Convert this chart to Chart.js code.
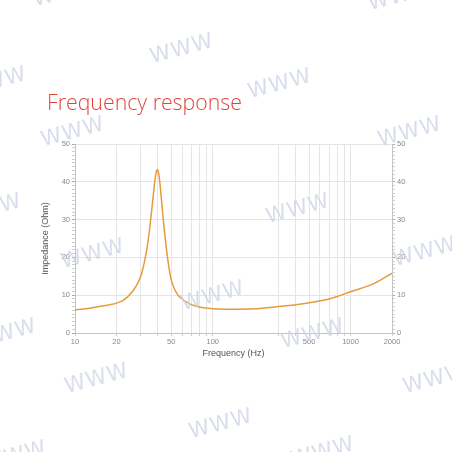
<!DOCTYPE html>
<html>
<head>
<meta charset="utf-8">
<script src="https://cdn.jsdelivr.net/npm/chart.js@4"></script>
<style>
  html,body{margin:0;padding:0;background:#fff;width:452px;height:452px;overflow:hidden;}
  #wrap{position:relative;width:452px;height:452px;}
  #c{position:absolute;left:0;top:0;}
  h1{position:absolute;left:47px;top:87px;margin:0;font-family:"Open Sans",sans-serif;font-weight:300;font-size:21.3px;color:#e0453d;letter-spacing:0;}
  .wm{position:absolute;font-family:"DejaVu Sans",sans-serif;font-size:21px;color:#cdd5e6;transform:rotate(-15deg);transform-origin:left top;letter-spacing:1px;pointer-events:none;opacity:0.8;}
</style>
</head>
<body>
<div id="wrap">
<canvas id="c" width="452" height="452"></canvas>
<h1>Frequency response</h1>
</div>
<script>
const freqHz = [10, 12, 15, 18, 20, 22, 24, 26, 28, 30, 31, 32, 33, 34, 35, 36, 37, 38, 39, 39.5, 40, 41, 42, 43, 44, 46, 48, 50, 53, 56, 60, 65, 70, 80, 90, 100, 120, 150, 200, 300, 400, 500, 700, 1000, 1500, 2000];
const impedanceOhm = [6.1, 6.4, 7.0, 7.5, 7.9, 8.5, 9.5, 10.9, 12.6, 15.0, 16.8, 19.0, 21.6, 24.6, 28.3, 32.3, 36.4, 40.3, 42.8, 43.2, 43.0, 40.8, 37.0, 33.0, 29.0, 22.5, 17.5, 14.0, 11.5, 10.0, 9.0, 8.1, 7.5, 6.9, 6.6, 6.4, 6.3, 6.3, 6.4, 7.0, 7.5, 8.0, 9.0, 10.9, 13.2, 15.8];
const xTickLabels = [10, 20, 50, 100, 500, 1000, 2000];
const xGridValues = [20, 30, 40, 50, 60, 70, 80, 90, 100, 300, 400, 500, 600, 700, 800, 900, 1000];
const yTickLabels = [0, 10, 20, 30, 40, 50];

const watermarks = [
  [30,-12],[365,-8],[147,45],[-40,78],[245,80],[38,128],[375,128],[-45,205],
  [263,205],[58,250],[390,248],[178,292],[-30,330],[278,330],[62,375],[400,375],[186,420],[288,448],[-20,452]
];
const wrap = document.getElementById('wrap');
watermarks.forEach(([x,y]) => {
  const d = document.createElement('div');
  d.className = 'wm'; d.textContent = 'WWW';
  d.style.left = x + 'px'; d.style.top = y + 'px';
  wrap.appendChild(d);
});

const points = freqHz.map((f, i) => ({x: f, y: impedanceOhm[i]}));
const tickFont = {family: "'Liberation Sans', Arial, sans-serif", size: 7.5};
const gridCol = '#e5e5e5';
const axisCol = '#c4c4c4';

function yAxis(pos, showGrid, width) {
  return {
    type: 'linear', position: pos, min: 0, max: 50,
    afterFit: s => { s.width = width; },
    ticks: {
      stepSize: 1, autoSkip: false, color: '#888', font: tickFont, padding: 2,
      callback: v => yTickLabels.includes(v) ? String(v) : ''
    },
    grid: {
      drawOnChartArea: showGrid,
      color: ctx => (ctx.tick && ctx.tick.value % 10 === 0) ? gridCol : 'rgba(0,0,0,0)',
      tickColor: ctx => (ctx.tick && ctx.tick.value % 10 === 0) ? '#aaa' : '#cfcfcf',
      tickLength: 3
    },
    border: {display: true, color: axisCol}
  };
}

const yLeft = yAxis('left', true, 35);
yLeft.title = {display: true, text: 'Impedance (Ohm)', color: '#555', font: {family: "'Liberation Sans', Arial, sans-serif", size: 9}, padding: {top: 0, bottom: 2}};

new Chart(document.getElementById('c'), {
  type: 'line',
  data: {
    datasets: [{
      data: points,
      borderColor: '#e59b3d',
      borderWidth: 1.5,
      pointRadius: 0,
      fill: false,
      cubicInterpolationMode: 'monotone'
    }]
  },
  options: {
    responsive: false,
    animation: false,
    layout: {padding: {left: 40, right: 40, top: 144, bottom: 89}},
    plugins: {legend: {display: false}, tooltip: {enabled: false}, title: {display: false}},
    scales: {
      x: {
        type: 'logarithmic', min: 10, max: 2000,
        afterFit: s => { s.height = 30; },
        ticks: {
          autoSkip: false, maxRotation: 0, color: '#888', font: tickFont, padding: 1,
          callback: v => xTickLabels.includes(v) ? String(v) : ''
        },
        grid: {
          color: ctx => (ctx.tick && xGridValues.includes(ctx.tick.value)) ? gridCol : 'rgba(0,0,0,0)',
          tickColor: ctx => (ctx.tick && (xGridValues.includes(ctx.tick.value) || xTickLabels.includes(ctx.tick.value))) ? '#cfcfcf' : 'rgba(0,0,0,0)',
          tickLength: 3
        },
        border: {display: true, color: axisCol},
        title: {display: true, text: 'Frequency (Hz)', color: '#555', font: {family: "'Liberation Sans', Arial, sans-serif", size: 9}, padding: {top: 2}}
      },
      y: yLeft,
      y2: yAxis('right', false, 20)
    }
  }
});
</script>
</body>
</html>
